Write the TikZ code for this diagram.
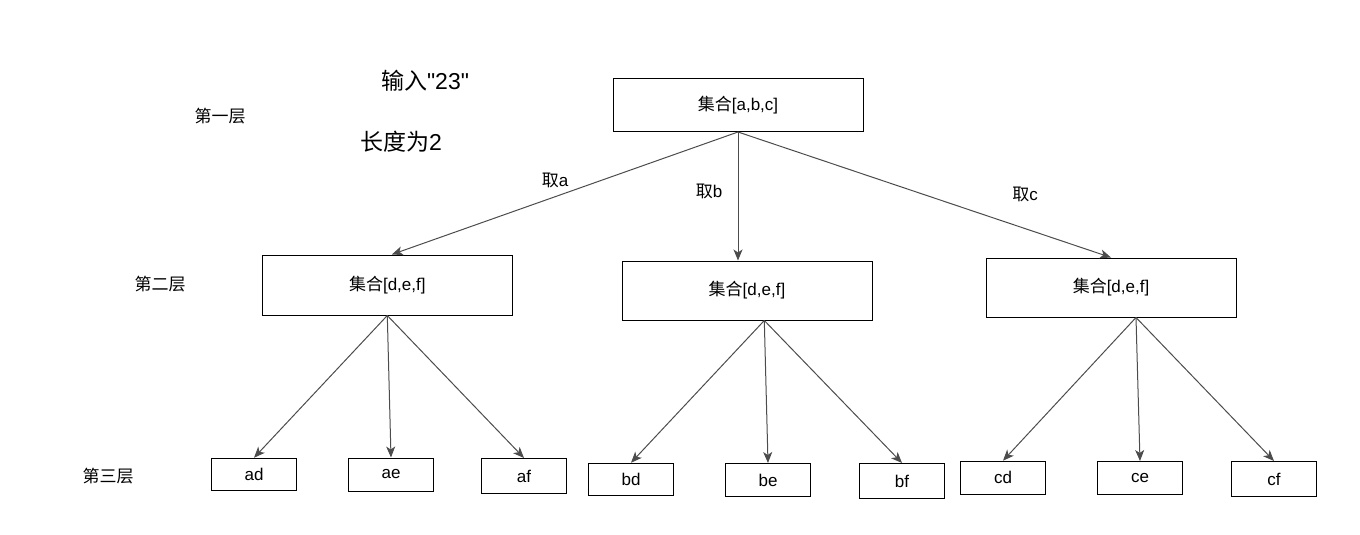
\documentclass[tikz,border=0pt]{standalone}
\usepackage{fontspec}
\setmainfont{Liberation Sans}
\newfontfamily\qfont{Liberation Sans}
\newfontfamily\cjk{Noto Sans CJK SC}
\usetikzlibrary{arrows.meta}
\begin{document}
\begin{tikzpicture}[x=1pt,y=-1pt,
  box/.style={draw=black, line width=1pt, inner sep=0pt, minimum width=250pt, font=\fontsize{17}{20}\selectfont},
  leaf/.style={draw=black, line width=1pt, inner sep=0pt, minimum width=85pt, font=\fontsize{17}{20}\selectfont},
  lbl/.style={inner sep=0pt, font=\fontsize{17}{20}\selectfont},
  big/.style={inner sep=0pt, font=\fontsize{23}{26}\selectfont},
  arr/.style={draw=black!70, line width=1pt, -{Stealth[length=11pt,width=9pt,inset=3pt]}}]
\useasboundingbox (0,0) rectangle (1360,535);
\node[box, minimum height=53pt] (top) at (738,105) {{\cjk 集合}[a,b,c]};
\node[box, minimum height=60pt] (la) at (387.3,285) {{\cjk 集合}[d,e,f]};
\node[box, minimum height=59pt] (lb) at (747,290.5) {{\cjk 集合}[d,e,f]};
\node[box, minimum height=59pt] (lc) at (1111,287.5) {{\cjk 集合}[d,e,f]};
\node[leaf, minimum height=32.5pt] (ad) at (254,474.5) {ad};
\node[leaf, minimum height=33pt] (ae) at (391,474.5) {ae};
\node[leaf, minimum height=35pt] (af) at (524,476) {af};
\node[leaf, minimum height=32.5pt] (bd) at (631,479.5) {bd};
\node[leaf, minimum height=33pt] (be) at (768,480) {be};
\node[leaf, minimum height=35pt] (bf) at (902,481) {bf};
\node[leaf, minimum height=33pt] (cd) at (1003,477.7) {cd};
\node[leaf, minimum height=33pt] (ce) at (1140,478) {ce};
\node[leaf, minimum height=35pt] (cf) at (1274,479) {cf};
\node[big] (in) at (425,81) {{\cjk 输入}{\qfont "23"}};
\node[big] (len) at (401,142) {{\cjk 长度为}2};
\node[lbl] (l1) at (220,116) {\cjk 第一层};
\node[lbl] (l2) at (160,284) {\cjk 第二层};
\node[lbl] (l3) at (108,476) {\cjk 第三层};
\node[lbl] (ta) at (555,180) {{\cjk 取}a};
\node[lbl] (tb) at (709,191) {{\cjk 取}b};
\node[lbl] (tc) at (1025,194) {{\cjk 取}c};
\draw[arr] (top.south) -- ([xshift=4.5pt]la.north);
\draw[arr] (top.south) -- (top.south |- lb.north);
\draw[arr] (top.south) -- (lc.north);
\coordinate (oa) at (la.south);
\coordinate (ob) at ([xshift=17.3pt]lb.south);
\coordinate (oc) at ([xshift=25pt]lc.south);
\foreach \p/\c in {oa/ad, oa/ae, oa/af, ob/bd, ob/be, ob/bf, oc/cd, oc/ce, oc/cf}
  \draw[arr] (\p) -- (\c.north);
\end{tikzpicture}
\end{document}
